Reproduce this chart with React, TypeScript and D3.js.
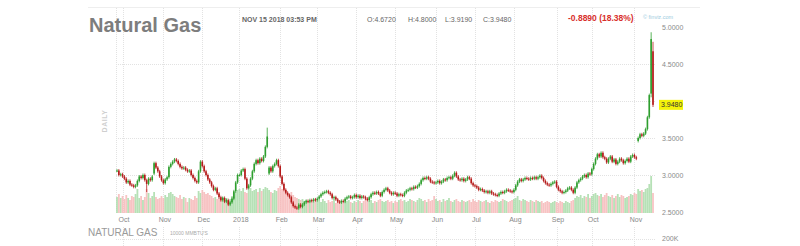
import React from "react";
import * as d3 from "d3";

const W = 800;
const H = 246;

// trading calendar
const startDate = "2017-09-27";
const endDate = "2018-11-15";
const holidays = ["2017-11-23", "2017-12-25", "2018-01-01", "2018-03-30", "2018-05-28", "2018-07-04", "2018-09-03"];
const monthLabels = ["Oct", "Nov", "Dec", "2018", "Feb", "Mar", "Apr", "May", "Jun", "Jul", "Aug", "Sep", "Oct", "Nov"];
const priceTicks = [5.0, 4.5, 3.5, 3.0, 2.5];
const gridPrices = [4.5, 4.0, 3.5, 3.0];

// daily closes
const closes = [
  3.06, 3.00, 3.01,
  2.98, 2.95, 2.90, 2.92, 2.87, 2.86, 2.84, 2.86, 2.92, 2.98, 2.96, 3.00, 2.93, 2.88, 2.95, 2.93, 2.98, 3.16, 3.10, 3.05, 2.98, 2.93,
  2.89, 2.94, 2.97, 3.11, 3.15, 3.18, 3.21, 3.19, 3.15, 3.11, 3.09, 3.10, 3.07, 3.05, 3.06, 3.00, 2.96, 2.92, 2.90, 3.05, 3.18,
  3.12, 3.05, 3.00, 2.94, 2.90, 2.85, 2.80, 2.82, 2.75, 2.70, 2.66, 2.69, 2.64, 2.66, 2.60, 2.63, 2.68, 2.78, 2.90, 3.00,
  3.00, 3.06, 3.08, 2.95, 2.82, 2.86, 2.95, 3.05, 3.15, 3.20, 3.16, 3.22, 3.19, 3.25, 3.38, 3.52, 3.10, 3.05, 3.12, 3.15, 3.20, 3.12,
  2.98, 2.88, 2.80, 2.76, 2.73, 2.70, 2.63, 2.58, 2.56, 2.55, 2.60, 2.57, 2.60, 2.63, 2.65, 2.64, 2.66, 2.65, 2.67, 2.66,
  2.68, 2.71, 2.74, 2.76, 2.77, 2.78, 2.76, 2.74, 2.69, 2.70, 2.67, 2.64, 2.63, 2.65, 2.64, 2.68, 2.70, 2.71, 2.69, 2.70, 2.73,
  2.70, 2.72, 2.69, 2.71, 2.70, 2.68, 2.66, 2.70, 2.74, 2.76, 2.75, 2.77, 2.75, 2.72, 2.77, 2.80, 2.82, 2.79, 2.76, 2.74, 2.76,
  2.75, 2.72, 2.74, 2.73, 2.72, 2.76, 2.79, 2.80, 2.82, 2.81, 2.84, 2.83, 2.85, 2.88, 2.93, 2.96, 2.95, 2.97, 2.95, 2.91, 2.90, 2.89,
  2.90, 2.92, 2.89, 2.91, 2.94, 2.93, 2.96, 2.97, 2.95, 2.99, 3.03, 2.98, 2.94, 2.93, 2.95, 2.92, 2.94, 2.97, 2.95, 2.89, 2.86,
  2.85, 2.83, 2.80, 2.81, 2.79, 2.77, 2.78, 2.76, 2.78, 2.75, 2.74, 2.73, 2.72, 2.75, 2.77, 2.76, 2.78, 2.80, 2.79, 2.78, 2.77,
  2.80, 2.86, 2.91, 2.94, 2.92, 2.94, 2.96, 2.95, 2.94, 2.96, 2.95, 2.97, 2.95, 2.97, 2.99, 2.96, 2.92, 2.89, 2.87, 2.86, 2.88, 2.90, 2.91,
  2.84, 2.80, 2.78, 2.76, 2.77, 2.79, 2.82, 2.83, 2.80, 2.76, 2.83, 2.90, 2.93, 2.95, 2.98, 3.00, 2.97, 3.02, 3.01,
  3.08, 3.15, 3.22, 3.28, 3.25, 3.30, 3.24, 3.22, 3.17, 3.22, 3.25, 3.18, 3.21, 3.15, 3.18, 3.22, 3.20, 3.16, 3.19, 3.22, 3.18, 3.25, 3.27,
  3.24, 3.22, 3.50, 3.55, 3.53, 3.56, 3.62, 3.78, 4.08, 4.837, 3.948,
];

// opens that differ from the prior close (gaps)
const openGaps = [
  { i: 20, o: 3.02 },
  { i: 82, o: 3.02 },
  { i: 281, o: 3.46 },
  { i: 288, o: 4.10 },
  { i: 289, o: 4.672 },
];
// visible wick extremes
const highMarks = [
  { i: 81, h: 3.64 },
  { i: 288, h: 4.929 },
  { i: 289, h: 4.8 },
];
const lowMarks = [
  { i: 16, l: 2.77 },
  { i: 288, l: 4.05 },
  { i: 289, l: 3.919 },
];

// daily volume (thousands)
const volumes = [
  160, 190, 150,
  170, 140, 180, 150, 130, 170, 160, 190, 240, 150, 170, 130, 160, 240, 200, 150, 170, 210, 160, 140, 150, 170,
  150, 180, 160, 200, 210, 190, 170, 160, 150, 180, 140, 160, 150, 110, 150, 140, 130, 170, 150, 220, 200,
  230, 210, 190, 200, 180, 170, 150, 160, 140, 150, 130, 160, 120, 150, 110, 140, 170, 200, 210, 230,
  240, 220, 250, 210, 200, 230, 250, 220, 230, 240, 210, 250, 220, 240, 260, 250, 230, 210, 200, 230, 220, 250,
  270, 240, 260, 230, 200, 190, 210, 180, 160, 150, 140, 130, 140, 120, 130, 110, 120, 130, 110, 140,
  120, 130, 110, 140, 120, 100, 130, 110, 120, 140, 100, 110, 130, 120, 100, 110, 120, 130, 110, 100, 120,
  110, 130, 120, 100, 120, 140, 110, 120, 130, 100, 120, 110, 130, 140, 120, 110, 120, 130, 110, 120, 100,
  120, 110, 130, 140, 120, 130, 110, 120, 140, 130, 120, 110, 130, 150, 140, 120, 130, 110, 140, 120, 130, 170,
  140, 120, 130, 110, 140, 120, 130, 150, 120, 110, 130, 140, 120, 110, 130, 120, 110, 120, 130, 110, 140,
  120, 110, 130, 120, 110, 120, 130, 110, 100, 120, 110, 130, 120, 110, 120, 140, 130, 120, 110, 120, 130,
  140, 150, 170, 130, 120, 140, 130, 120, 110, 130, 120, 110, 130, 120, 110, 120, 100, 110, 120, 110, 100, 110, 120,
  110, 100, 120, 110, 100, 120, 110, 100, 120, 130, 150, 170, 160, 180, 150, 170, 160, 190, 150,
  170, 190, 200, 180, 170, 190, 160, 180, 200, 170, 160, 180, 150, 170, 190, 160, 180, 170, 150, 160, 170, 190, 180,
  200, 190, 240, 220, 230, 210, 240, 250, 290, 370, 200,
];

const lastClose = 3.948;

function tradingDays(): Date[] {
  const out: Date[] = [];
  const hol = new Set(holidays);
  const d = new Date(startDate + "T12:00:00Z");
  const end = new Date(endDate + "T12:00:00Z");
  while (d <= end) {
    const wd = d.getUTCDay();
    const key = d.toISOString().slice(0, 10);
    if (wd !== 0 && wd !== 6 && !hol.has(key)) out.push(new Date(d));
    d.setUTCDate(d.getUTCDate() + 1);
  }
  return out;
}

export default function App() {
  const N = closes.length;
  const allDays = tradingDays();
  const days = allDays.slice(allDays.length - N);

  const x = d3.scaleLinear().domain([0, N - 1]).range([117, 653]);
  const y = d3.scaleLinear().domain([2.5, 5.0]).range([212, 27]);
  const v = d3.scaleLinear().domain([0, 400]).range([0, 40]);
  const volBase = 213;

  const gapMap = new Map(openGaps.map((g) => [g.i, g.o]));
  const hiMap = new Map(highMarks.map((g) => [g.i, g.h]));
  const loMap = new Map(lowMarks.map((g) => [g.i, g.l]));

  const candles = closes.map((c, i) => {
    const o = gapMap.has(i) ? (gapMap.get(i) as number) : i === 0 ? c : closes[i - 1];
    const hi = hiMap.has(i) ? (hiMap.get(i) as number) : Math.max(o, c) + 0.02;
    const lo = loMap.has(i) ? (loMap.get(i) as number) : Math.min(o, c) - 0.02;
    return { i, o, c, hi, lo, up: c >= o, vol: volumes[i] };
  });

  const monthIdx: number[] = [];
  days.forEach((d, i) => {
    if (i > 0 && d.getUTCMonth() !== days[i - 1].getUTCMonth()) monthIdx.push(i);
  });

  const font = "'Liberation Sans', Arial, sans-serif";
  const grid = "#e2e2e2";
  const green = "#2e9e2e";
  const red = "#b51a1a";

  return (
    <svg width={W} height={H} style={{ position: "absolute", left: 0, top: 0, background: "#fff" }} fontFamily={font}>
      {/* top border */}
      <line x1={88} x2={700} y1={7.5} y2={7.5} stroke="#eeeeee" />
      {/* left border */}
      <line x1={116.5} x2={116.5} y1={8} y2={214} stroke={grid} strokeDasharray="1,1" />
      {/* horizontal grid */}
      {gridPrices.map((p) => (
        <line key={p} x1={116} x2={655} y1={Math.round(y(p)) + 0.5} y2={Math.round(y(p)) + 0.5} stroke={grid} strokeDasharray="1,1" />
      ))}
      {/* vertical grid */}
      {monthIdx.map((i) => (
        <g key={i}>
          <line x1={Math.round(x(i)) + 0.5} x2={Math.round(x(i)) + 0.5} y1={8} y2={214} stroke={grid} strokeDasharray="1,1" />
          <line x1={Math.round(x(i)) + 0.5} x2={Math.round(x(i)) + 0.5} y1={227} y2={246} stroke={grid} strokeDasharray="1,1" />
        </g>
      ))}
      {/* lower panel line */}
      <line x1={116} x2={655} y1={239.5} y2={239.5} stroke={grid} strokeDasharray="1,1" />

      {/* volume */}
      {candles.map((d) => (
        <rect
          key={"v" + d.i}
          x={x(d.i) - 0.9}
          width={1.8}
          y={volBase - v(d.vol)}
          height={v(d.vol)}
          fill={d.up ? "#a9dca9" : "#f6b9b9"}
          opacity={0.85}
        />
      ))}

      {/* candles */}
      {candles.map((d) => {
        const col = d.up ? green : red;
        const top = y(Math.max(d.o, d.c));
        const bot = y(Math.min(d.o, d.c));
        return (
          <g key={"c" + d.i}>
            <line x1={x(d.i)} x2={x(d.i)} y1={y(d.hi)} y2={y(d.lo)} stroke={col} strokeWidth={0.8} />
            <rect x={x(d.i) - 0.8} width={1.6} y={top} height={Math.max(1, bot - top)} fill={col} />
          </g>
        );
      })}

      {/* DAILY */}
      <text transform="translate(107,121) rotate(-90)" textAnchor="middle" fontSize={7} fontWeight="bold" fill="#cfcfcf" letterSpacing={0.5}>
        DAILY
      </text>

      {/* title */}
      <text x={89} y={32} fontSize={20} fontWeight="bold" fill="#7d7d7d">
        Natural Gas
      </text>
      <text x={242} y={22} fontSize={7} fontWeight="bold" fill="#666">
        NOV 15 2018 03:53 PM
      </text>
      <text x={367} y={22} fontSize={7} fill="#666">O:4.6720</text>
      <text x={408} y={22} fontSize={7} fill="#666">H:4.8000</text>
      <text x={445} y={22} fontSize={7} fill="#666">L:3.9190</text>
      <text x={483} y={22} fontSize={7} fill="#666">C:3.9480</text>
      <text x={568} y={21} fontSize={8.5} fontWeight="bold" fill="#d8302c">
        -0.8890 (18.38%)
      </text>
      <text x={643} y={19} fontSize={5.5} fill="#9ccbe0">
        © finviz.com
      </text>

      {/* price axis */}
      {priceTicks.map((p) => (
        <text key={p} x={662} y={y(p) + 2.5} fontSize={7} fill="#8a8a8a">
          {p.toFixed(4)}
        </text>
      ))}
      <rect x={659} y={y(lastClose) - 5} width={24} height={10} fill="#f4f40a" />
      <text x={661} y={y(lastClose) + 2.5} fontSize={7} fill="#333">
        {lastClose.toFixed(4)}
      </text>

      {/* month labels */}
      {monthIdx.map((i, k) => (
        <text key={"m" + i} x={x(i) + 1.5} y={222} fontSize={7} fill="#888" textAnchor="middle">
          {monthLabels[k]}
        </text>
      ))}

      {/* lower panel */}
      <text x={88} y={236} fontSize={10} fill="#9a9a9a">
        NATURAL GAS
      </text>
      <text x={170} y={235} fontSize={5} fill="#aaa">
        10000 MMBTU'S
      </text>
      <text x={662} y={240.5} fontSize={7} fill="#8a8a8a">
        200K
      </text>
    </svg>
  );
}
